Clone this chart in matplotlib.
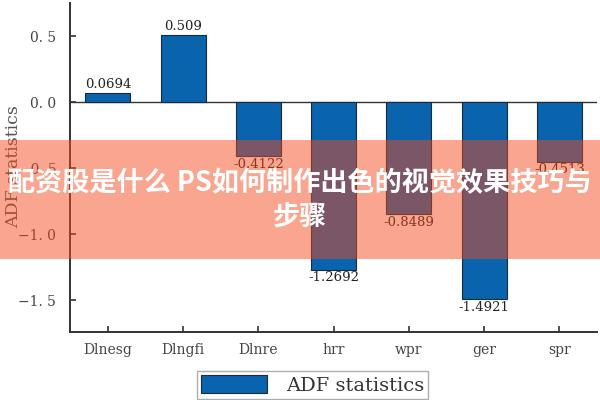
import matplotlib

matplotlib.use("Agg")
import matplotlib.pyplot as plt
from matplotlib.patches import Rectangle

CATEGORIES = ["Dlnesg", "Dlngfi", "Dlnre", "hrr", "wpr", "ger", "spr"]
ADF_VALUES = [0.0694, 0.509, -0.4122, -1.2692, -0.8489, -1.4921, -0.4513]
VALUE_LABELS = ["0.0694", "0.509", "-0.4122", "-1.2692", "-0.8489", "-1.4921", "-0.4513"]
Y_TICKS = [0.5, 0.0, -0.5, -1.0, -1.5]
Y_TICK_LABELS = ["0. 5", "0. 0", "\u22120. 5", "\u22121. 0", "\u22121. 5"]
BANNER_TEXT = "配资股是什么 PS如何制作出色的视觉效果技巧与\n步骤"

BAR_COLOR = "#0a64ad"
SERIF = "DejaVu Serif"

fig = plt.figure(figsize=(6, 4), dpi=100)
ax = fig.add_axes([0.117, 0.17, 0.878, 0.8225])

x = list(range(len(CATEGORIES)))
ax.bar(x, ADF_VALUES, width=0.6, color=BAR_COLOR, edgecolor="#1a2a3a",
       linewidth=0.8, label="ADF statistics", zorder=2)
ax.axhline(0, color="#333333", linewidth=1.0, zorder=1)

for xi, val, lab in zip(x, ADF_VALUES, VALUE_LABELS):
    if val >= 0:
        ax.text(xi, val + 0.012, lab, ha="center", va="bottom",
                fontsize=9.5, family=SERIF, color="#222222")
    else:
        ax.text(xi, val - 0.012, lab, ha="center", va="top",
                fontsize=9.5, family=SERIF, color="#222222")

ax.set_xlim(-0.5, 6.5)
ax.set_ylim(-1.742, 0.75)
ax.set_xticks(x)
ax.set_xticklabels(CATEGORIES, family=SERIF, fontsize=10, color="#444444")
ax.set_yticks(Y_TICKS)
ax.set_yticklabels(Y_TICK_LABELS, family=SERIF, fontsize=10, color="#444444")
ax.tick_params(axis="both", direction="in", length=4, width=1.2, color="#333333")
ax.tick_params(axis="x", pad=8)
ax.tick_params(axis="y", pad=10)
for side in ["top", "right"]:
    ax.spines[side].set_visible(False)
for side in ["left", "bottom"]:
    ax.spines[side].set_linewidth(1.4)
    ax.spines[side].set_color("#333333")

fig.text(0.022, 0.583, "ADF statistics", rotation=90, ha="center", va="center",
         family=SERIF, fontsize=12.5, color="#555555")

leg = fig.legend(loc="center", bbox_to_anchor=(0.521, 0.0375), frameon=True,
                 fancybox=False, edgecolor="#999999", handlelength=3.4,
                 handleheight=1.0, borderpad=0.2, handletextpad=1.0,
                 prop={"family": SERIF, "size": 14})
leg.get_frame().set_linewidth(1.0)
for t in leg.get_texts():
    t.set_color("#333333")

# semi-transparent banner overlay
fig.patches.append(Rectangle((0, 0.3525), 1, 0.2975, transform=fig.transFigure,
                             facecolor=(243 / 255, 73 / 255, 28 / 255),
                             alpha=0.49, edgecolor="none", zorder=5))
fig.text(0.5, 0.5, BANNER_TEXT, ha="center", va="center", color="white",
         fontsize=19.5, fontweight="bold", linespacing=1.3,
         family=["Noto Sans CJK SC", "DejaVu Sans"], zorder=6)

fig.savefig("out.png", dpi=100)
